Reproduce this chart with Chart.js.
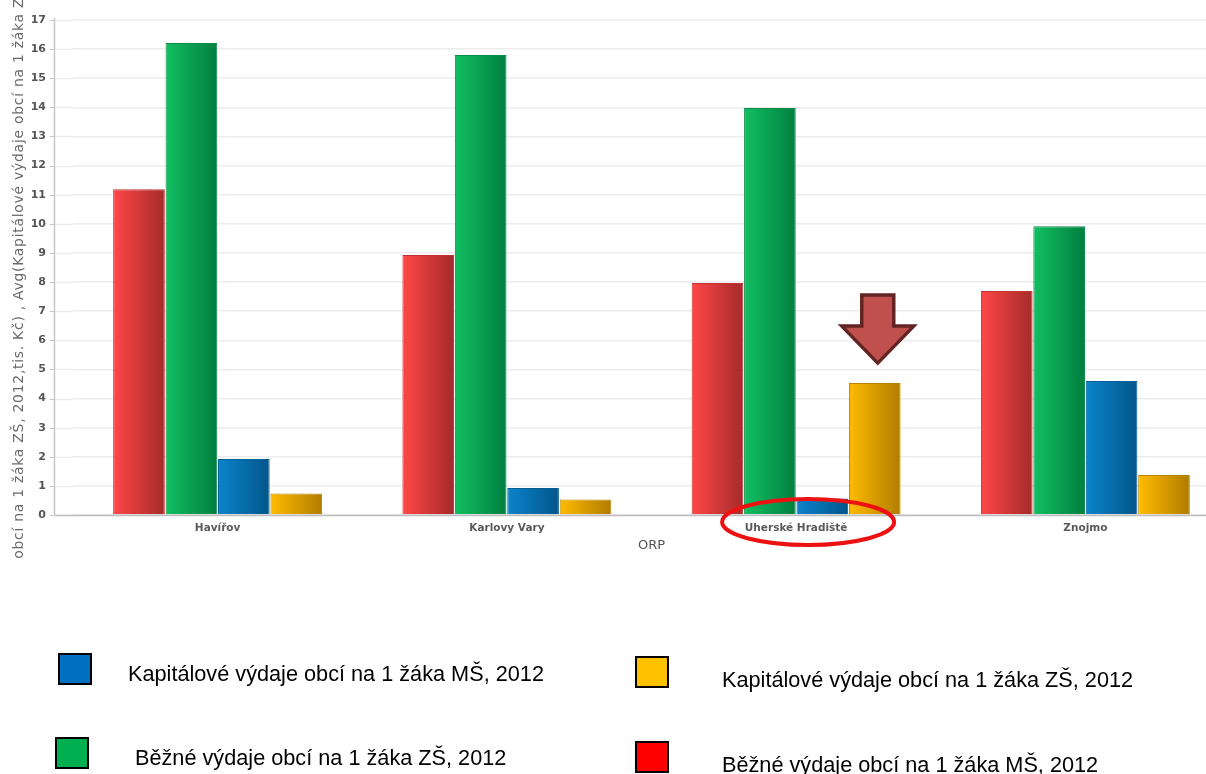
<!DOCTYPE html>
<html>
<head>
<meta charset="utf-8">
<script src="https://cdn.jsdelivr.net/npm/chart.js@4/dist/chart.umd.min.js"></script>
<style>
  html, body { margin: 0; padding: 0; background: #fff; width: 1206px; height: 774px; overflow: hidden; }
  #wrap { position: absolute; left: 0; top: 0; width: 1230px; height: 565px; }
  #legend { position: absolute; left: 0; top: 0; width: 1206px; height: 774px; pointer-events: none;
            font-family: "Liberation Sans", Arial, sans-serif; font-size: 21.7px; color: #000; }
  .lg-box { position: absolute; width: 34px; height: 32px; border: 2px solid #000; box-sizing: border-box; }
  .lg-txt { position: absolute; white-space: nowrap; line-height: 24px; }
</style>
</head>
<body>
<div id="wrap"><canvas id="c"></canvas></div>
<div id="legend"></div>
<script>
// ---- data ----
const categories = ["Havířov", "Karlovy Vary", "Uherské Hradiště", "Znojmo"];
const seriesNames = [
  "Běžné výdaje obcí na 1 žáka MŠ, 2012",
  "Běžné výdaje obcí na 1 žáka ZŠ, 2012",
  "Kapitálové výdaje obcí na 1 žáka MŠ, 2012",
  "Kapitálové výdaje obcí na 1 žáka ZŠ, 2012"
];
const bezneMS = [11.19, 8.93, 7.97, 7.69];
const bezneZS = [16.21, 15.80, 13.98, 9.92];
const kapitalMS = [1.92, 0.93, 0.57, 4.60];
const kapitalZS = [0.74, 0.53, 4.53, 1.37];
const yTicks = [0,1,2,3,4,5,6,7,8,9,10,11,12,13,14,15,16,17];
const xTitle = "ORP";
const yTitle = "Avg(Běžné výdaje obcí na 1 žáka ZŠ, 2012,tis. Kč) , Avg(Kapitálové výdaje obcí na 1 žáka ZŠ, 2012,tis. Kč)";
const yTitleSplit = "Avg(Běžné výdaje obcí na 1 žáka ZŠ, 2012,tis. Kč) , ";

// styles
const palettes = [
  { light: "#ff4747", dark: "#a52a2a", border: "#c23030", legend: "#ff0000" },
  { light: "#12bf62", dark: "#007f3f", border: "#0a8a48", legend: "#00b050" },
  { light: "#0a84cc", dark: "#03568a", border: "#055f96", legend: "#0070c0" },
  { light: "#ffbb00", dark: "#b07c00", border: "#b88300", legend: "#ffc000" }
];
const seriesValues = [bezneMS, bezneZS, kapitalMS, kapitalZS];

const canvas = document.getElementById('c');
canvas.width = 1230; canvas.height = 565;
canvas.style.width = '1230px'; canvas.style.height = '565px';

const gradientPlugin = {
  id: 'gradients',
  beforeDatasetsDraw(chart) {
    const ctx = chart.ctx;
    chart.data.datasets.forEach((ds, di) => {
      const meta = chart.getDatasetMeta(di);
      const p = palettes[di];
      meta.data.forEach(el => {
        const g = ctx.createLinearGradient(el.x - el.width / 2, 0, el.x + el.width / 2, 0);
        g.addColorStop(0, p.light);
        g.addColorStop(1, p.dark);
        el.options.backgroundColor = g;
      });
    });
  }
};

const axesPlugin = {
  id: 'axesExtra',
  beforeDatasetsDraw(chart) {
    const ctx = chart.ctx;
    const ca = chart.chartArea;
    const y = chart.scales.y;
    const axisX = 54.5;
    ctx.save();
    ctx.strokeStyle = '#ececec';
    ctx.lineWidth = 1.5;
    yTicks.forEach(t => {
      if (t === 0) return;
      const py = Math.round(y.getPixelForValue(t)) + 0.5;
      ctx.beginPath(); ctx.moveTo(axisX, py); ctx.lineTo(ca.left, py); ctx.stroke();
    });
    ctx.strokeStyle = '#c8c8c8';
    ctx.lineWidth = 1;
    yTicks.forEach(t => {
      const py = Math.round(y.getPixelForValue(t)) + 0.5;
      ctx.beginPath(); ctx.moveTo(axisX - 5, py); ctx.lineTo(axisX, py); ctx.stroke();
    });
    ctx.strokeStyle = '#c8c8c8';
    ctx.lineWidth = 1.5;
    ctx.beginPath(); ctx.moveTo(axisX, ca.top - 2); ctx.lineTo(axisX, ca.bottom); ctx.stroke();
    ctx.restore();
  },
  afterDatasetsDraw(chart) {
    const ctx = chart.ctx;
    const y = chart.scales.y;
    const py = Math.round(y.getPixelForValue(0)) + 0.5;
    ctx.save();
    ctx.strokeStyle = '#bdbdbd';
    ctx.lineWidth = 1.5;
    ctx.beginPath(); ctx.moveTo(54.5, py); ctx.lineTo(chart.width, py); ctx.stroke();
    ctx.restore();
  },
  afterDraw(chart) {
    const ctx = chart.ctx;
    // rotated y-axis title (clipped by canvas)
    ctx.save();
    ctx.font = '14px "DejaVu Sans", sans-serif';
    if ('letterSpacing' in ctx) ctx.letterSpacing = '0.7px';
    ctx.fillStyle = '#6a6a6a';
    ctx.textBaseline = 'middle';
    ctx.textAlign = 'left';
    const w = ctx.measureText(yTitleSplit).width;
    ctx.translate(19, 300 + w);
    ctx.rotate(-Math.PI / 2);
    ctx.fillText(yTitle, 0, 0);
    ctx.restore();

    // annotations: arrow above highlighted bar, ellipse around its category label
    const hi = categories.indexOf("Uherské Hradiště");
    const el = chart.getDatasetMeta(3).data[hi];
    const ax = el.x + 3, tipY = el.y - 20;
    ctx.save();
    ctx.beginPath();
    ctx.moveTo(ax, tipY);
    ctx.lineTo(ax - 36, tipY - 37);
    ctx.lineTo(ax - 16, tipY - 37);
    ctx.lineTo(ax - 16, tipY - 68);
    ctx.lineTo(ax + 16, tipY - 68);
    ctx.lineTo(ax + 16, tipY - 37);
    ctx.lineTo(ax + 36, tipY - 37);
    ctx.closePath();
    ctx.fillStyle = '#c0504d';
    ctx.fill();
    ctx.lineWidth = 3.5;
    ctx.strokeStyle = '#632523';
    ctx.lineJoin = 'miter';
    ctx.stroke();

    const xs = chart.scales.x;
    const lx = xs.getPixelForValue(hi);
    ctx.beginPath();
    ctx.ellipse(lx + 12, 522, 86, 23, 0, 0, Math.PI * 2);
    ctx.lineWidth = 4;
    ctx.strokeStyle = '#ee1111';
    ctx.stroke();
    ctx.restore();
  }
};

const chart = new Chart(canvas, {
  type: 'bar',
  data: {
    labels: categories,
    datasets: seriesValues.map((vals, i) => ({
      label: seriesNames[i],
      data: vals,
      backgroundColor: () => palettes[i].light,
      borderColor: palettes[i].border,
      borderWidth: 1,
      categoryPercentage: 0.725,
      barPercentage: 0.985
    }))
  },
  options: {
    responsive: false,
    animation: false,
    events: [],
    layout: { padding: { top: 20, left: 0, right: 0, bottom: 0 } },
    plugins: { legend: { display: false }, tooltip: { enabled: false } },
    scales: {
      x: {
        grid: { display: false, drawTicks: false },
        border: { display: false },
        ticks: { color: '#5a5a5a', font: { family: '"DejaVu Sans", sans-serif', size: 10.5, weight: 'bold' }, padding: 7, maxRotation: 0 },
        title: { display: true, text: xTitle, color: '#555', font: { family: '"DejaVu Sans", sans-serif', size: 13 }, padding: { top: 0, bottom: 12 } },
        afterFit(s) { s.height = 50; }
      },
      y: {
        min: 0, max: 17,
        afterBuildTicks(s) { s.ticks = yTicks.map(v => ({ value: v })); },
        grid: { color: '#ececec', lineWidth: 1.5, drawTicks: true, tickLength: 23, tickColor: 'rgba(0,0,0,0)' },
        border: { display: false },
        ticks: { color: '#555', font: { family: '"DejaVu Sans", sans-serif', size: 11, weight: 'bold' }, padding: 4 },
        afterFit(s) { s.width = 73; }
      }
    }
  },
  plugins: [gradientPlugin, axesPlugin]
});

// HTML legend built from chart datasets
const legendPos = [
  { ds: 2, bx: 58, by: 653, tx: 128, ty: 674 },
  { ds: 1, bx: 55, by: 737, tx: 135, ty: 758 },
  { ds: 3, bx: 635, by: 656, tx: 722, ty: 680 },
  { ds: 0, bx: 635, by: 741, tx: 722, ty: 765 }
];
const leg = document.getElementById('legend');
legendPos.forEach(p => {
  const b = document.createElement('div');
  b.className = 'lg-box';
  b.style.left = p.bx + 'px'; b.style.top = p.by + 'px';
  b.style.background = palettes[p.ds].legend;
  leg.appendChild(b);
  const t = document.createElement('div');
  t.className = 'lg-txt';
  t.style.left = p.tx + 'px'; t.style.top = (p.ty - 12) + 'px';
  t.textContent = chart.data.datasets[p.ds].label;
  leg.appendChild(t);
});
</script>
</body>
</html>
